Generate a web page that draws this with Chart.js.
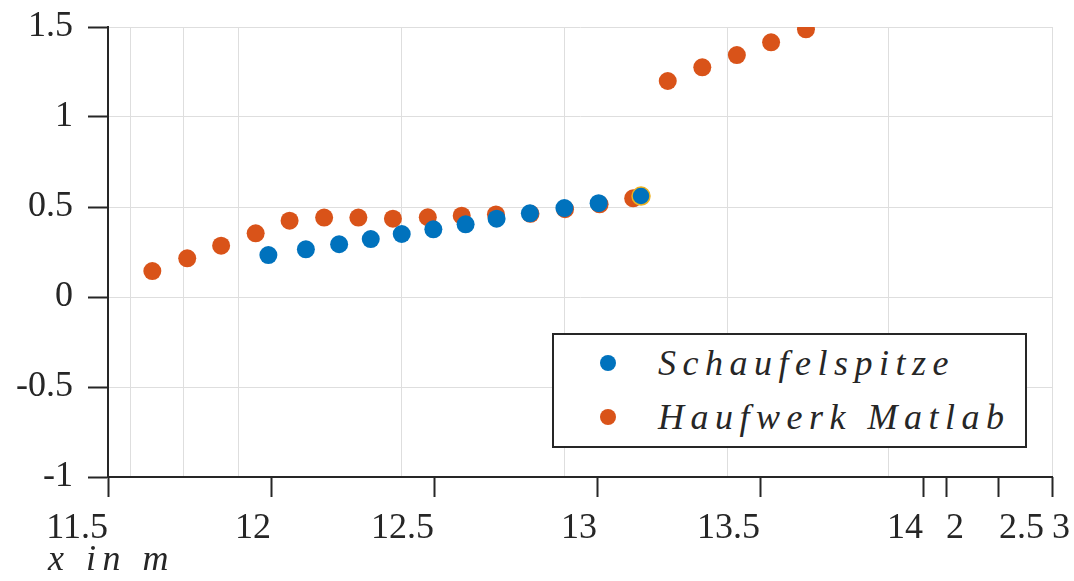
<!DOCTYPE html>
<html>
<head>
<meta charset="utf-8">
<script src="https://cdn.jsdelivr.net/npm/chart.js@4.4.1/dist/chart.umd.min.js"></script>
<style>
  html, body { margin: 0; padding: 0; background: #ffffff; }
  #wrap { position: relative; width: 1074px; height: 581px; overflow: hidden; }
  #c { position: absolute; left: 0; top: 0; }
  #legend { position: absolute; left: 0; top: 0; width: 1074px; height: 581px; pointer-events: none; }
  .lg-box { position: absolute; box-sizing: border-box; background: #fff; border: 2px solid #262626; }
  .lg-dot { position: absolute; width: 16px; height: 16px; border-radius: 50%; }
  .lg-txt { position: absolute; font-family: 'Liberation Serif', serif; font-style: italic; font-size: 36px;
            line-height: 36px; letter-spacing: 6.5px; color: #262626; white-space: nowrap; }
</style>
</head>
<body>
<div id="wrap">
  <canvas id="c" width="1074" height="581"></canvas>
  <div id="legend"></div>
</div>
<script>
// ---------------- data ----------------
const seriesNames = ['Schaufelspitze', 'Haufwerk Matlab'];

const blueX = [11.992, 12.107, 12.209, 12.306, 12.401, 12.498, 12.597, 12.692, 12.794, 12.900, 13.005, 13.135];
const blueY = [0.233, 0.265, 0.293, 0.322, 0.350, 0.376, 0.404, 0.435, 0.465, 0.494, 0.521, 0.561];

const orangeX = [11.636, 11.743, 11.847, 11.953, 12.057, 12.163, 12.268, 12.374, 12.481, 12.585,
                 12.690, 12.796, 12.902, 13.008, 13.111, 13.217, 13.323, 13.429, 13.534, 13.641];
const orangeY = [0.144, 0.215, 0.285, 0.354, 0.424, 0.441, 0.441, 0.435, 0.443, 0.452,
                 0.459, 0.462, 0.488, 0.515, 0.548, 1.200, 1.276, 1.344, 1.415, 1.487];

const xMin = 11.5;
const xMax = 14.3957;
const xMainTicks = [11.5, 12, 12.5, 13, 13.5, 14];
const xMainLabels = ['11.5', '12', '12.5', '13', '13.5', '14'];
const xExtraTicks = [14.0706, 14.2331, 14.3957];
const xExtraLabels = ['2', '2.5', '3'];
const xGridValues = [11.5675, 11.7331, 11.8988, 12.3988, 12.8988, 13.3988, 13.8957, 14.3957];

const yTicks = [-1, -0.5, 0, 0.5, 1, 1.5];
const yLabels = ['-1', '-0.5', '0', '0.5', '1', '1.5'];

const xTitle = 'x in m';

// ---------------- styles ----------------
const AX = '#262626';
const GRID = '#dedede';
const BLUE = '#0072BD';
const ORANGE = '#D95319';
const EDGE = '#EDB120';
const FONT = 'Liberation Serif';

const zeroPad = s => { s.paddingLeft = 0; s.paddingRight = 0; s.paddingTop = 0; s.paddingBottom = 0; };

// axis title: shifted start and math-italic letter spacing
const titleTweak = {
  id: 'titleTweak',
  afterLayout(chart) {
    const t = chart.titleBlock;
    if (t) { t.left = 48; }
  },
  beforeDraw(chart) {
    const t = chart.titleBlock;
    if (t && !t._spaced) {
      const orig = t.draw.bind(t);
      t.draw = function (area) {
        const c = chart.ctx;
        const prev = c.letterSpacing;
        c.letterSpacing = '6.5px';
        orig(area);
        c.letterSpacing = prev || '0px';
      };
      t._spaced = true;
    }
  }
};

// HTML legend built from the chart's datasets
const htmlLegend = {
  id: 'htmlLegend',
  afterUpdate(chart) {
    const host = document.getElementById('legend');
    host.innerHTML = '';
    const box = document.createElement('div');
    box.className = 'lg-box';
    Object.assign(box.style, { left: '552px', top: '333px', width: '475px', height: '115px' });
    host.appendChild(box);
    chart.data.datasets.forEach((ds, i) => {
      const dot = document.createElement('div');
      dot.className = 'lg-dot';
      dot.style.background = ds.backgroundColor;
      dot.style.left = '600px';
      dot.style.top = (355 + i * 54) + 'px';
      host.appendChild(dot);
      const txt = document.createElement('div');
      txt.className = 'lg-txt';
      txt.textContent = ds.label;
      txt.style.left = '658px';
      txt.style.top = (345 + i * 54) + 'px';
      host.appendChild(txt);
    });
  }
};

const last = blueX.length - 1;

new Chart(document.getElementById('c'), {
  type: 'scatter',
  data: {
    datasets: [
      {
        label: seriesNames[0],
        data: blueX.map((x, i) => ({ x: x, y: blueY[i] })),
        backgroundColor: BLUE,
        borderColor: blueX.map((_, i) => i === last ? EDGE : BLUE),
        pointBorderWidth: blueX.map((_, i) => i === last ? 1.5 : 0),
        pointRadius: 9,
        pointHoverRadius: 9
      },
      {
        label: seriesNames[1],
        data: orangeX.map((x, i) => ({ x: x, y: orangeY[i] })),
        backgroundColor: ORANGE,
        borderColor: ORANGE,
        pointBorderWidth: 0,
        pointRadius: 9,
        pointHoverRadius: 9
      }
    ]
  },
  options: {
    responsive: false,
    animation: false,
    devicePixelRatio: 1,
    events: [],
    layout: { padding: { left: 0, right: 22, top: 27, bottom: 2 } },
    scales: {
      xg: {
        type: 'linear', axis: 'x', position: { y: -1 },
        min: xMin, max: xMax, bounds: 'data',
        afterBuildTicks: s => { s.ticks = xGridValues.map(v => ({ value: v })); },
        afterFit: zeroPad,
        ticks: { display: false },
        grid: { color: GRID, lineWidth: 1, drawTicks: false },
        border: { display: false }
      },
      x: {
        type: 'linear', position: 'bottom',
        min: xMin, max: xMax, bounds: 'data',
        afterBuildTicks: s => { s.ticks = xMainTicks.map(v => ({ value: v })); },
        afterFit: s => { s.height = 66; zeroPad(s); },
        grid: { drawOnChartArea: false, drawTicks: true, tickLength: 20, tickColor: AX, tickWidth: 2 },
        border: { color: AX, width: 2 },
        ticks: {
          align: 'end', padding: 10, autoSkip: false, maxRotation: 0, minRotation: 0,
          color: AX, font: { family: FONT, size: 36 },
          callback: (v, i) => xMainLabels[i]
        }
      },
      x3: {
        type: 'linear', axis: 'x', position: { y: -1 },
        min: xMin, max: xMax, bounds: 'data',
        afterBuildTicks: s => { s.ticks = xExtraTicks.map(v => ({ value: v })); },
        afterFit: zeroPad,
        grid: { drawOnChartArea: false, drawTicks: true, tickLength: 20, tickColor: AX, tickWidth: 2 },
        border: { display: false },
        ticks: {
          align: 'start', padding: 10, autoSkip: false, maxRotation: 0, minRotation: 0,
          color: AX, font: { family: FONT, size: 36 },
          callback: (v, i) => xExtraLabels[i]
        }
      },
      y: {
        type: 'linear', position: 'left',
        min: -1, max: 1.5, bounds: 'data',
        afterBuildTicks: s => { s.ticks = yTicks.map(v => ({ value: v })); },
        afterFit: s => { s.width = 108; zeroPad(s); },
        grid: { color: GRID, lineWidth: 1, drawTicks: true, tickLength: 20, tickColor: AX, tickWidth: 2 },
        border: { color: AX, width: 2 },
        ticks: {
          padding: 15, color: AX, font: { family: FONT, size: 36 },
          callback: (v, i) => yLabels[i]
        }
      }
    },
    plugins: {
      legend: { display: false },
      tooltip: { enabled: false },
      title: {
        display: true, text: xTitle, position: 'bottom', align: 'start',
        color: AX, padding: 0,
        font: { family: FONT, style: 'italic', size: 36, lineHeight: 1, weight: 'normal' }
      }
    }
  },
  plugins: [titleTweak, htmlLegend]
});
</script>
</body>
</html>
